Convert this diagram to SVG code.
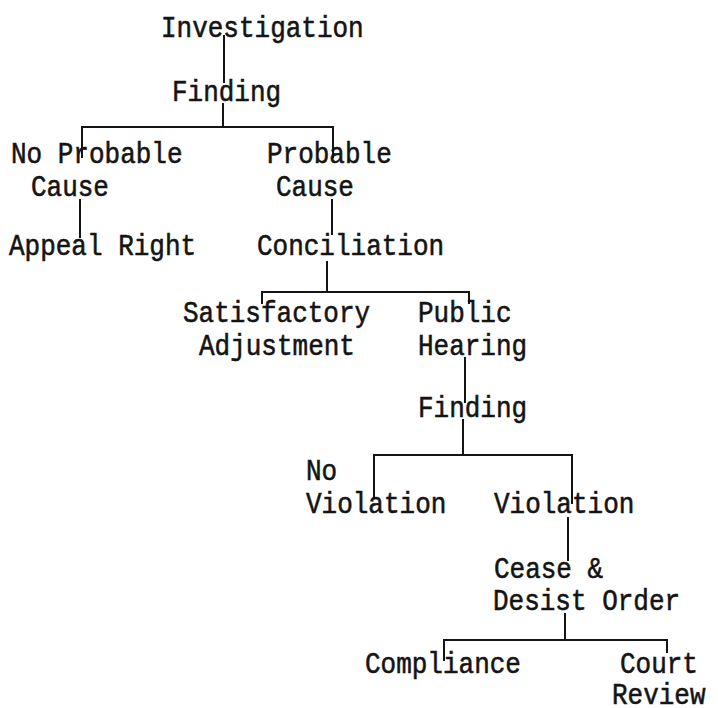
<svg xmlns="http://www.w3.org/2000/svg" width="718" height="708" viewBox="0 0 718 708">
<style>
.t{font-family:"Liberation Mono","Courier New",monospace;font-size:26px;fill:#141414;stroke:#141414;stroke-width:0.5}
.c{fill:none;stroke:#141414;stroke-width:2;stroke-linecap:square}
</style>
<rect width="718" height="708" fill="#ffffff"/>
<g id="connectors">
<path class="c" d="M224 36V82"/>
<path class="c" d="M223 104V127M82 127H333M82 127V157M333 127V157"/>
<path class="c" d="M80 200V237"/>
<path class="c" d="M332 200V234"/>
<path class="c" d="M327 262V292M262 292H469M262 292V303M469 292V303"/>
<path class="c" d="M465 358V402"/>
<path class="c" d="M463 420V455M374 455H572M374 455V498M572 455V503"/>
<path class="c" d="M568 518V560"/>
<path class="c" d="M565 614V640M444 640H667M444 640V660M667 640V652"/>
</g>
<g id="investigation"><text class="t" transform="translate(161 37) scale(1 1.14)">Investigation</text></g>
<g id="finding1"><text class="t" transform="translate(172 101) scale(1 1.14)">Finding</text></g>
<g id="no-probable-cause"><text class="t" transform="translate(11 163) scale(1 1.14)">No Probable</text><text class="t" transform="translate(31 196) scale(1 1.14)">Cause</text></g>
<g id="probable-cause"><text class="t" transform="translate(267 163) scale(1 1.14)">Probable</text><text class="t" transform="translate(276 196) scale(1 1.14)">Cause</text></g>
<g id="appeal-right"><text class="t" transform="translate(9 255) scale(1 1.14)">Appeal Right</text></g>
<g id="conciliation"><text class="t" transform="translate(257 255) scale(1 1.14)">Conciliation</text></g>
<g id="satisfactory-adjustment"><text class="t" transform="translate(183 322) scale(1 1.14)">Satisfactory</text><text class="t" transform="translate(199 355) scale(1 1.14)">Adjustment</text></g>
<g id="public-hearing"><text class="t" transform="translate(418 322) scale(1 1.14)">Public</text><text class="t" transform="translate(418 355) scale(1 1.14)">Hearing</text></g>
<g id="finding2"><text class="t" transform="translate(418 417) scale(1 1.14)">Finding</text></g>
<g id="no-violation"><text class="t" transform="translate(306 480) scale(1 1.14)">No</text><text class="t" transform="translate(306 513) scale(1 1.14)">Violation</text></g>
<g id="violation"><text class="t" transform="translate(494 513) scale(1 1.14)">Violation</text></g>
<g id="cease-desist"><text class="t" transform="translate(494 578) scale(1 1.14)">Cease &amp;</text><text class="t" transform="translate(493 610) scale(1 1.14)">Desist Order</text></g>
<g id="compliance"><text class="t" transform="translate(365 673) scale(1 1.14)">Compliance</text></g>
<g id="court-review"><text class="t" transform="translate(620 673) scale(1 1.14)">Court</text><text class="t" transform="translate(612 704) scale(1 1.14)">Review</text></g>
</svg>
